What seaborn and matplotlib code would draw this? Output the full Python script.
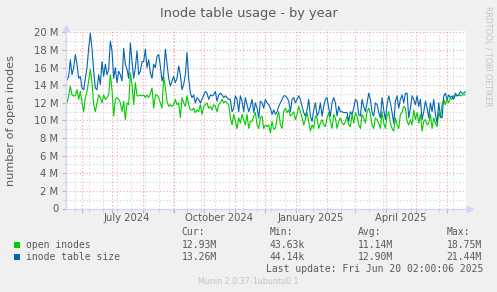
import matplotlib
matplotlib.use("Agg")
import matplotlib.pyplot as plt
import matplotlib.dates as mdates
import matplotlib.ticker as mticker
from matplotlib.patches import Rectangle
import pandas as pd
import seaborn as sns

# values in millions (roughly every 1.7 days)
inode_table_size = [
    14.6, 15.0, 16.9, 15.2, 16.0, 17.5, 16.4, 14.8, 15.0, 13.7, 13.5, 14.8, 16.0, 18.2, 19.9, 18.2, 15.6, 13.7, 13.5, 15.2,
    14.1, 16.7, 15.0, 16.4, 15.2, 15.8, 19.0, 17.9, 14.8, 16.0, 14.3, 15.6, 15.2, 14.5, 18.2, 16.4, 15.8, 14.8,
    18.8, 16.7, 14.8, 16.0, 17.9, 15.2, 15.6, 16.7, 16.7, 18.1, 16.0, 16.9, 15.4, 14.8, 16.4, 16.0, 17.3, 17.5, 16.2, 14.5,
    15.2, 18.1, 16.4, 14.8, 13.9, 14.5, 15.0, 14.3, 14.8, 16.2, 15.2, 13.5, 14.1, 15.2, 17.7, 14.8, 13.1, 12.6, 12.9, 12.0, 12.6,
    12.4, 12.0, 12.4, 12.9, 13.3, 13.1, 12.4, 12.9, 12.8, 12.9, 13.3, 12.2, 12.9, 13.1, 12.9, 12.6, 12.8, 12.6, 12.4, 12.4,
    11.0, 11.4, 12.8, 12.4, 11.0, 12.8, 12.2, 11.0, 12.6, 11.8, 11.0, 11.6, 12.4, 10.9, 12.0, 11.4, 10.3, 12.2, 12.0, 11.4, 12.4,
    12.0, 11.8, 11.4, 10.7, 11.2, 10.7, 11.0, 11.6, 12.0, 12.4, 12.8, 12.8, 12.6, 12.2, 11.0, 12.4, 12.6, 12.0, 12.4, 12.8,
    12.4, 11.6, 10.9, 10.5, 11.2, 12.4, 10.5, 9.9, 11.2, 12.0, 10.5, 10.9, 12.0, 10.5, 11.6, 12.4, 12.6, 11.4, 10.5, 12.0, 12.6,
    12.0, 10.5, 11.6, 11.0, 11.0, 10.9, 10.9, 10.9, 9.9, 11.0, 10.7, 11.4, 12.4, 12.2, 10.7, 10.5, 12.4, 11.6, 11.0, 12.0,
    13.1, 12.4, 10.9, 10.5, 12.0, 11.8, 10.9, 10.3, 12.6, 11.2, 10.1, 11.8, 12.8, 12.0, 10.9, 9.7, 12.2, 12.8, 11.4, 12.4, 12.9,
    12.0, 13.1, 13.1, 10.3, 11.4, 12.8, 12.4, 11.8, 12.8, 11.6, 12.4, 10.1, 11.0, 12.2, 11.4, 10.3, 12.0, 11.0, 12.4, 10.7,
    9.7, 12.0, 10.5, 10.3, 12.8, 13.1, 12.4, 12.9, 12.6, 12.8, 12.4, 13.1, 12.8, 12.9, 13.3, 13.1, 13.1, 13.26,
]
open_inodes = [
    12.0, 12.8, 13.9, 12.9, 12.8, 12.8, 13.5, 12.4, 13.3, 12.0, 11.0, 12.6, 13.3, 14.5, 15.8, 14.3, 11.8, 11.0, 12.0, 12.9,
    12.6, 12.0, 12.9, 12.4, 12.6, 12.9, 15.2, 13.5, 10.5, 12.4, 12.6, 12.4, 12.0, 11.0, 12.2, 10.1, 12.0, 11.8,
    15.4, 14.1, 11.8, 14.3, 12.8, 12.8, 12.9, 12.8, 12.9, 12.6, 12.9, 12.6, 13.1, 13.7, 11.4, 12.9, 12.9, 12.6, 12.0, 11.4,
    15.0, 13.7, 12.2, 11.6, 11.8, 11.6, 11.8, 12.4, 11.8, 12.0, 10.3, 12.6, 12.0, 11.6, 12.8, 11.8, 11.2, 11.2, 11.4, 10.9, 11.2,
    11.0, 11.8, 10.7, 11.6, 11.8, 12.0, 11.4, 11.6, 11.2, 11.8, 11.6, 11.0, 11.8, 12.0, 12.4, 12.0, 12.2, 12.0, 11.8, 10.3,
    9.5, 10.7, 9.9, 9.1, 10.3, 9.7, 10.7, 10.1, 9.5, 10.7, 9.1, 9.9, 9.9, 10.5, 10.9, 9.5, 9.1, 10.3, 10.5, 9.1, 9.5,
    9.3, 9.5, 8.6, 9.9, 9.0, 9.1, 10.3, 11.0, 9.5, 9.1, 11.0, 11.4, 10.9, 11.2, 10.5, 10.7, 11.0, 10.1, 10.7, 11.6,
    11.0, 10.3, 9.5, 10.1, 10.9, 9.9, 8.8, 9.5, 9.1, 10.5, 10.3, 9.1, 9.7, 10.1, 9.5, 9.3, 10.3, 10.9, 9.9, 9.1, 10.7,
    10.3, 9.1, 9.9, 10.3, 9.7, 9.5, 9.9, 10.5, 9.5, 9.3, 10.7, 9.7, 10.9, 10.5, 9.5, 9.1, 10.7, 10.3, 9.7, 11.0,
    11.4, 10.7, 9.5, 9.1, 10.3, 10.1, 9.7, 9.1, 11.0, 9.7, 9.1, 10.5, 11.0, 9.7, 9.1, 8.8, 10.3, 9.5, 9.1, 10.7, 10.9,
    11.6, 11.4, 9.9, 9.5, 10.1, 9.5, 11.2, 10.1, 10.9, 9.7, 10.7, 8.8, 9.9, 10.1, 9.5, 9.7, 10.7, 9.1, 10.3, 9.7,
    9.3, 10.9, 10.3, 11.8, 12.4, 11.8, 12.4, 12.0, 12.6, 12.4, 12.8, 12.8, 12.8, 12.9, 12.8, 12.9, 12.9, 12.93,
]
series_names = ["open inodes", "inode table size"]
series_colors = ["#00CC00", "#0066B3"]
stats_cols = ["Cur:", "Min:", "Avg:", "Max:"]
stats_open = ["12.93M", "43.63k", "11.14M", "18.75M"]
stats_table = ["13.26M", "44.14k", "12.90M", "21.44M"]
x_labels = ["July 2024", "October 2024", "January 2025", "April 2025"]
x_label_dates = ["2024-07-16", "2024-10-16", "2025-01-16", "2025-04-16"]

times = pd.date_range("2024-05-17 02:00", "2025-06-19 12:00", periods=len(open_inodes))
df = pd.concat([
    pd.DataFrame({"time": times, "value": [v * 1e6 for v in open_inodes], "series": series_names[0]}),
    pd.DataFrame({"time": times, "value": [v * 1e6 for v in inode_table_size], "series": series_names[1]}),
])

sns.set_theme(style="white")
plt.rcParams["font.family"] = ["DejaVu Sans"]
W, H = 497, 292
fig = plt.figure(figsize=(W / 100, H / 100), dpi=100, facecolor="#F0F0F0")
ax = fig.add_axes([66 / W, (H - 208.5) / H, 400 / W, (208.5 - 31) / H])
ax.set_facecolor("white")

def px(x, y):
    return x / W, 1 - y / H

txt = "#5a5a5a"
red = "#f2a0a0"
gray = "#d2d2d2"

sns.lineplot(data=df, x="time", y="value", hue="series", palette=series_colors,
             linewidth=0.8, legend=False, ax=ax, estimator=None)

ax.set_xlim(pd.Timestamp("2024-05-16 02:00"), pd.Timestamp("2025-06-20 02:00"))
ax.set_ylim(0, 20.17e6)
ax.set_xlabel("")
ax.set_ylabel("")

ax.xaxis.set_major_locator(mdates.MonthLocator())
ax.xaxis.set_major_formatter(mticker.NullFormatter())
ax.xaxis.set_minor_locator(mticker.FixedLocator(
    mdates.date2num(pd.date_range("2024-05-25 02:00", "2025-06-20", freq="14D"))))
ax.yaxis.set_major_locator(mticker.MultipleLocator(2e6))
ax.yaxis.set_minor_locator(mticker.MultipleLocator(1e6))
ax.yaxis.set_major_formatter(mticker.FuncFormatter(lambda v, p: "0" if v == 0 else f"{v / 1e6:.0f} M"))

ax.set_axisbelow(True)
ax.grid(which="minor", color=gray, linestyle=(0, (1, 2)), linewidth=0.8)
ax.grid(which="major", color=red, linestyle=(0, (1, 2)), linewidth=0.8)
ax.tick_params(which="major", length=3, width=0.8, color=red, labelsize=7.2, labelcolor=txt, pad=2.5)
ax.tick_params(which="minor", length=2, width=0.8, color=gray)
ax.tick_params(axis="x", which="both", bottom=True)
ax.tick_params(axis="y", which="both", left=True)

for s in ["top", "right"]:
    ax.spines[s].set_visible(False)
for s in ["left", "bottom"]:
    ax.spines[s].set_color("#CFD6F8")
    ax.spines[s].set_linewidth(0.9)
ax.plot([1.01], [0], marker=">", ms=4, color="#CFD6F8", transform=ax.transAxes, clip_on=False)
ax.plot([0], [1.015], marker="^", ms=4, color="#CFD6F8", transform=ax.transAxes, clip_on=False)

for lab, d in zip(x_labels, x_label_dates):
    ax.text(pd.Timestamp(d), -0.052, lab, transform=ax.get_xaxis_transform(),
            ha="center", va="center", fontsize=7.2, color=txt)

fig.text(*px(248.5, 13), "Inode table usage - by year", ha="center", va="center", fontsize=9.3, color=txt)
fig.text(*px(11, 120), "number of open inodes", rotation=90, ha="center", va="center", fontsize=8.1, color=txt)
fig.text(*px(488, 56), "RRDTOOL / TOBI OETIKER", rotation=270, ha="center", va="center", fontsize=5.7, color="#c4c4c4")

mono = dict(family="DejaVu Sans Mono", fontsize=7.05, color=txt, va="center")
col_x = [181.5, 270, 358, 446.5]
for cx, head in zip(col_x, stats_cols):
    fig.text(*px(cx, 232), head, ha="left", **mono)
for row_y, name, color, vals in [(245, series_names[0], series_colors[0], stats_open),
                                 (257, series_names[1], series_colors[1], stats_table)]:
    fig.patches.append(Rectangle(px(14, row_y + 3), 6 / W, 6 / H, transform=fig.transFigure,
                                 facecolor=color, edgecolor="none"))
    fig.text(*px(26.5, row_y), name, ha="left", **mono)
    for cx, v in zip(col_x, vals):
        fig.text(*px(cx, row_y), v, ha="left", **mono)
fig.text(*px(483, 269), "Last update: Fri Jun 20 02:00:06 2025", ha="right", **mono)
fig.text(*px(248, 281), "Munin 2.0.37-1ubuntu0.1", ha="center", va="center", fontsize=5.8, color="#c4c4c4")

fig.savefig("out.png", dpi=100, facecolor=fig.get_facecolor())
